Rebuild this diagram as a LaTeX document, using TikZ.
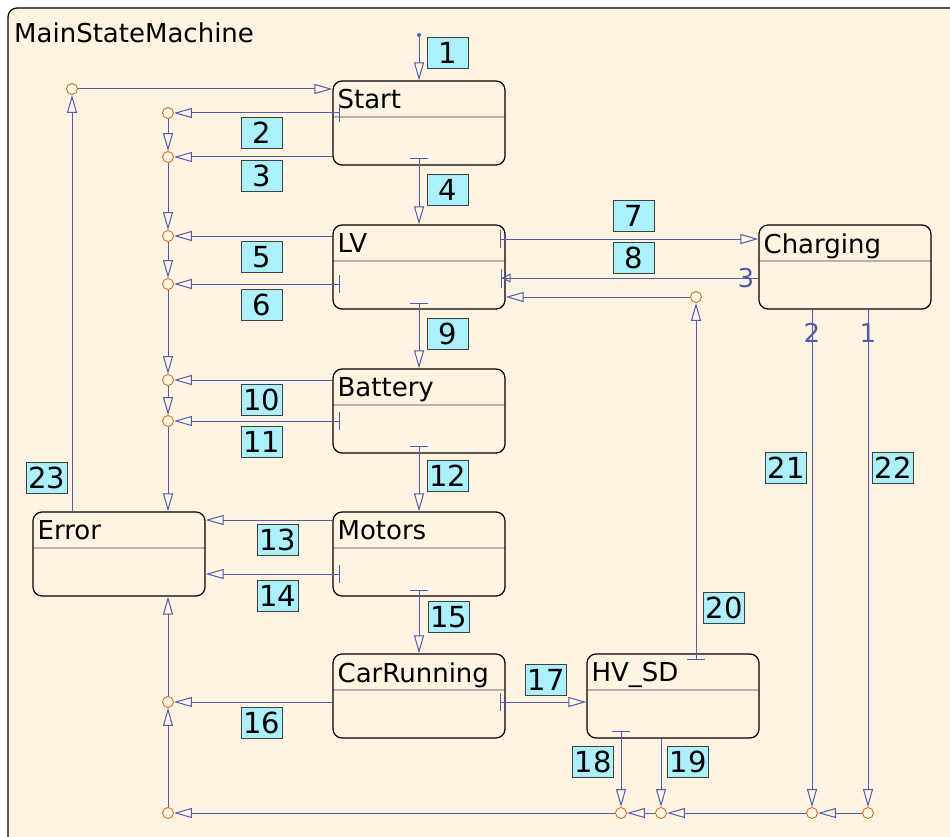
\documentclass[tikz,border=0pt]{standalone}
\usepackage{fontspec}
\setmainfont{DejaVu Sans}
\usepackage{tikz}
\usetikzlibrary{arrows.meta,calc,positioning}

\definecolor{bgcream}{RGB}{255,244,225}
\definecolor{numcyan}{RGB}{172,240,252}
\definecolor{linblue}{RGB}{82,92,172}
\definecolor{juncorange}{RGB}{205,115,40}
\definecolor{headgray}{RGB}{185,180,170}

\begin{document}
\begin{tikzpicture}[
x=1pt, y=-1pt,
font=\fontsize{26}{30}\selectfont,
state/.style={draw, line width=1.2pt, rounded corners=9pt, fill=bgcream,
  minimum width=172pt, minimum height=84pt, inner sep=0pt,
  path picture={\draw[headgray, line width=1.5pt]
    ([yshift=-36pt]path picture bounding box.north west) --
    ([yshift=-36pt]path picture bounding box.north east);}},
title/.style={anchor=north west, inner sep=0pt, xshift=5pt, yshift=-9pt},
junction/.style={circle, draw=juncorange, line width=0.9pt, fill=bgcream,
  inner sep=0pt, minimum size=11pt},
num/.style={draw=black!75, line width=0.8pt, fill=numcyan,
  font=\fontsize{29}{32}\selectfont,
  minimum width=41pt, minimum height=31pt, inner sep=0pt},
port/.style={text=linblue, inner sep=0pt},
tr/.style={draw=linblue, line width=1pt, -{Triangle[open, length=18pt, width=10pt]}},
barred/.style={{Bar[width=18pt]}-{Triangle[open, length=18pt, width=10pt]}},
]
\useasboundingbox (0,0) rectangle (950,837);
\clip (0,0) rectangle (950,837);
\draw[line width=1.2pt, rounded corners=9pt, fill=bgcream] (8,8) rectangle (980,870);
\node[anchor=base west, inner sep=0pt] (machine) at (14,43) {MainStateMachine};

% states
\node[state, label={[title]north west:Start}] (start) at (419,123) {};
\node[state, label={[title]north west:LV}] (lv) at (419,267) {};
\node[state, label={[title]north west:Battery}] (battery) at (419,411) {};
\node[state, label={[title]north west:Motors}] (motors) at (419,554) {};
\node[state, label={[title]north west:CarRunning}] (carrunning) at (419,696) {};
\node[state, label={[title]north west:HV\_SD}] (hvsd) at (673,696) {};
\node[state, label={[title]north west:Charging}] (charging) at (845,267) {};
\node[state, label={[title]north west:Error}] (error) at (119,554) {};

% pseudo states
\node[circle, fill=linblue, inner sep=0pt, minimum size=4pt] (init) at (419,35) {};
\node[junction] (ja) at (72,89) {};
\node[junction] (j2) at (168,113) {};
\node[junction] (j3) at (168,157) {};
\node[junction] (j5) at (168,236) {};
\node[junction] (j6) at (168,284) {};
\node[junction] (j10) at (168,380) {};
\node[junction] (j11) at (168,421) {};
\node[junction] (j16) at (168,702) {};
\node[junction] (jbl) at (168,813) {};
\node[junction] (j20) at (696,297) {};
\node[junction] (j18) at (621,813) {};
\node[junction] (j19) at (661,813) {};
\node[junction] (j21) at (812,813) {};
\node[junction] (j22) at (868,813) {};

% transitions
\draw[tr] (init) -- (start);
\draw[tr, barred] ($(j2 -| start.west)+(8,0)$) -- (j2);
\draw[tr] (j3 -| start.west) -- (j3);
\draw[tr, barred] ($(start.south)+(0,-8)$) -- (lv.north);
\draw[tr] (j5 -| lv.west) -- (j5);
\draw[tr, barred] ($(j6 -| lv.west)+(8,0)$) -- (j6);
\draw[tr, barred] ($(lv.east)+(-6,-28)$) -- ($(charging.west)+(0,-28)$);
\draw[draw=linblue, line width=1pt, -{Triangle[open, length=9pt, width=9pt]Bar[width=19pt]}]
  ($(charging.west)+(0,11)$) -- ($(lv.east)+(-5,11)$);
\draw[tr, barred] ($(lv.south)+(0,-7)$) -- (battery.north);
\draw[tr] (j10 -| battery.west) -- (j10);
\draw[tr, barred] ($(j11 -| battery.west)+(8,0)$) -- (j11);
\draw[tr, barred] ($(battery.south)+(0,-8)$) -- (motors.north);
\draw[tr] ($(motors.west)+(0,-34)$) -- ($(error.east)+(0,-34)$);
\draw[tr, barred] ($(motors.west)+(8,20)$) -- ($(error.east)+(0,20)$);
\draw[tr, barred] ($(motors.south)+(0,-7)$) -- (carrunning.north);
\draw[tr] (j16 -| carrunning.west) -- (j16);
\draw[tr, barred] ($(carrunning.east)+(-6,6)$) -- ($(hvsd.west)+(0,6)$);
\draw[tr, barred] ($(hvsd.south -| j18)+(0,-8)$) -- (j18);
\draw[tr] (hvsd.south -| j19) -- (j19);
\draw[tr, barred] ($(hvsd.north -| j20)+(0,7)$) -- (j20);
\draw[tr] (j20) -- (j20 -| lv.east);
\draw[tr] (charging.south -| j21) -- (j21);
\draw[tr] (charging.south -| j22) -- (j22);
\draw[tr] (ja |- error.north) -- (ja);
\draw[tr] (ja) -- (ja -| start.west);

% junction chains
\draw[tr] (j2) -- (j3);
\draw[tr] (j3) -- (j5);
\draw[tr] (j5) -- (j6);
\draw[tr] (j6) -- (j10);
\draw[tr] (j10) -- (j11);
\draw[tr] (j11) -- (j11 |- error.north);
\draw[tr] (j22) -- (j21);
\draw[tr] (j21) -- (j19);
\draw[tr] (j19) -- (j18);
\draw[tr] (j18) -- (jbl);
\draw[tr] (jbl) -- (j16);
\draw[tr] (j16) -- (j16 |- error.south);

% exit point numbers
\node[port] (p3) at (746,278) {3};
\node[port] (p2) at (812,333) {2};
\node[port] (p1) at (868,333) {1};

% transition numbers
\node[num] (n1) at (448,53) {1};
\node[num] (n2) at (262,133) {2};
\node[num] (n3) at (262,176) {3};
\node[num] (n4) at (448,190) {4};
\node[num] (n5) at (262,257) {5};
\node[num] (n6) at (262,305) {6};
\node[num] (n7) at (634,216) {7};
\node[num] (n8) at (634,258) {8};
\node[num] (n9) at (448,334) {9};
\node[num] (n10) at (262,400) {10};
\node[num] (n11) at (262,442) {11};
\node[num] (n12) at (448,476) {12};
\node[num] (n13) at (278,540) {13};
\node[num] (n14) at (278,596) {14};
\node[num] (n15) at (449,617) {15};
\node[num] (n16) at (262,723) {16};
\node[num] (n17) at (546,680) {17};
\node[num] (n18) at (593,762) {18};
\node[num] (n19) at (688,762) {19};
\node[num] (n20) at (724,608) {20};
\node[num] (n21) at (786,468) {21};
\node[num] (n22) at (893,468) {22};
\node[num] (n23) at (47,478) {23};
\end{tikzpicture}
\end{document}
